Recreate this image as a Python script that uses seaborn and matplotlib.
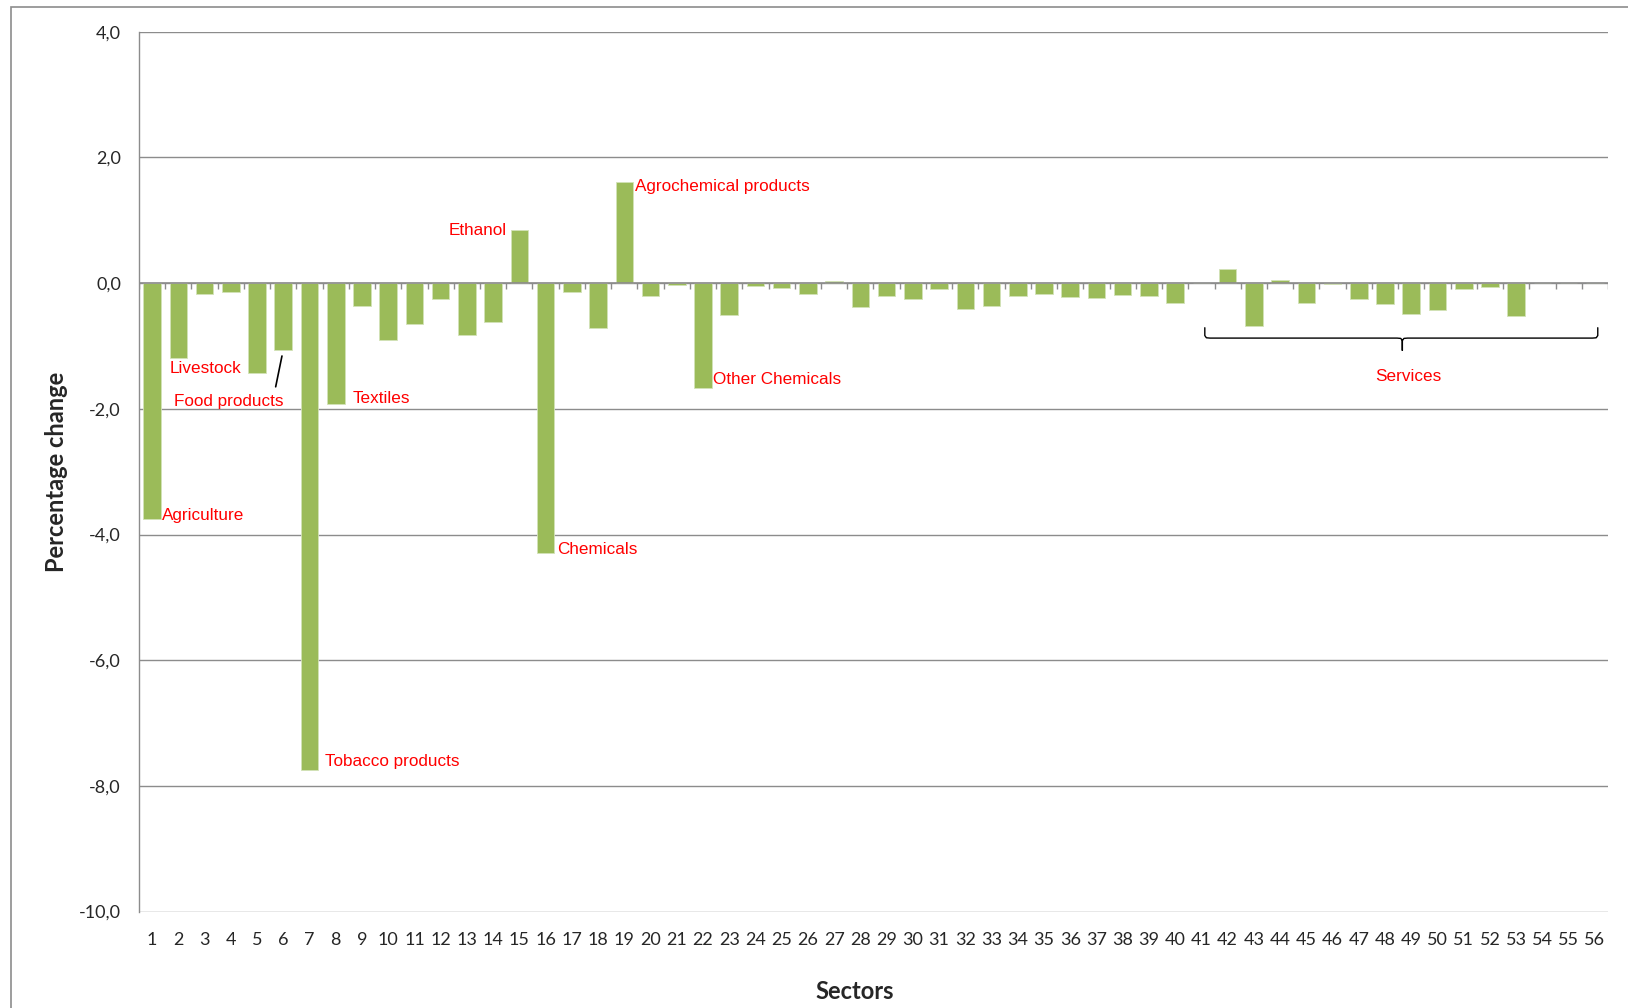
import numpy as np
import pandas as pd
import matplotlib
matplotlib.use("Agg")
import matplotlib.pyplot as plt
from matplotlib.patches import Rectangle
import seaborn as sns

# Data
sectors = [str(i) for i in range(1, 57)]
change = [-3.75, -1.19, -0.17, -0.14, -1.43, -1.07, -7.74, -1.93, -0.37, -0.91,
          -0.65, -0.25, -0.83, -0.62, 0.84, -4.29, -0.14, -0.72, 1.61, -0.21,
          -0.03, -1.67, -0.51, -0.04, -0.08, -0.17, 0.04, -0.38, -0.20, -0.26,
          -0.10, -0.42, -0.37, -0.20, -0.18, -0.22, -0.23, -0.19, -0.20, -0.32,
          0.00, 0.22, -0.68, 0.05, -0.31, -0.01, -0.25, -0.33, -0.49, -0.43,
          -0.10, -0.07, -0.53, 0.00, 0.00, 0.00]
y_ticks = [4, 2, 0, -2, -4, -6, -8, -10]

# label text, anchor (x index, y), alignment
labels = [
    ("Agriculture", 0.36, -3.69, "left"),
    ("Livestock", 0.65, -1.36, "left"),
    ("Food products", 0.83, -1.88, "left"),
    ("Textiles", 7.65, -1.83, "left"),
    ("Tobacco products", 6.58, -7.61, "left"),
    ("Ethanol", 13.51, 0.84, "right"),
    ("Chemicals", 15.45, -4.24, "left"),
    ("Agrochemical products", 18.42, 1.54, "left"),
    ("Other Chemicals", 21.39, -1.54, "left"),
    ("Services", 47.9, -1.49, "center"),
]

df = pd.DataFrame({"sector": sectors, "change": change})

sns.set_style("white")
plt.rcParams["font.family"] = ["Lato", "DejaVu Sans"]

fig = plt.figure(figsize=(16.28, 10.08), dpi=100)
ax = fig.add_axes([139 / 1628, 1 - 911.6 / 1008, (1608 - 139) / 1628, (911.6 - 31.7) / 1008])

grid_col = "#8c8c8c"
sns.barplot(data=df, x="sector", y="change", color="#9BBB59", saturation=1,
            width=0.67, edgecolor="#d3e2b8", linewidth=0.6, ax=ax, zorder=3)

ax.set_xlim(-0.5, len(sectors) - 0.5)
ax.set_ylim(-10, 4)
ax.set_yticks(y_ticks)
ax.set_yticklabels([f"{v:.1f}".replace(".", ",") for v in y_ticks], fontsize=13)
ax.yaxis.grid(True, color=grid_col, linewidth=1.0, zorder=0)
ax.set_axisbelow(True)

for s in ["top", "right", "bottom"]:
    ax.spines[s].set_visible(False)
ax.spines["left"].set_color(grid_col)
ax.spines["left"].set_linewidth(1.0)
ax.tick_params(axis="y", length=6, width=1.0, color=grid_col, pad=7)
ax.tick_params(axis="x", length=0, pad=15, labelsize=13)

# zero axis with category boundary ticks
ax.axhline(0, color=grid_col, linewidth=1.2, zorder=4)
bounds = np.arange(len(sectors) + 1) - 0.5
ax.vlines(bounds, -0.09, 0, color=grid_col, linewidth=1.0, zorder=4)

ax.set_xlabel("Sectors", fontsize=17, fontweight="bold")
ax.set_ylabel("Percentage change", fontsize=17, fontweight="bold")
ax.xaxis.set_label_coords(0.487, -0.078)
ax.yaxis.set_label_coords(-0.048, 0.5)

for text, x, y, ha in labels:
    ax.text(x, y, text, color="#ff0000", fontsize=12.3, ha=ha, va="center",
            family=["Liberation Sans", "DejaVu Sans"], zorder=5)

# leader line for food products
ax.plot([4.71, 4.95], [-1.65, -1.16], color="black", linewidth=1.2, zorder=5)

# services brace
xl, xr, xm = 40.13, 55.11, 47.66
ytop, ymid, ytip = -0.71, -0.875, -1.07
r = 0.2
brace_x = [xl, xl, xl + r * 0.3, xl + r, xm - r, xm - r * 0.3, xm, xm,
           xm, xm + r * 0.3, xm + r, xr - r, xr - r * 0.3, xr, xr]
brace_y = [ytop, ymid + 0.04, ymid + 0.005, ymid, ymid, ymid - 0.005, ymid - 0.04, ytip,
           ymid - 0.04, ymid - 0.005, ymid, ymid, ymid + 0.005, ymid + 0.04, ytop]
ax.plot(brace_x, brace_y, color="black", linewidth=1.0, zorder=5, clip_on=False)

# outer chart border
fig.patches.append(Rectangle((11 / 1628, -0.05), 1.2, 1 - 7 / 1008 + 0.05,
                             transform=fig.transFigure, fill=False,
                             edgecolor="#8c8c8c", linewidth=1.2))

fig.savefig("out.png", dpi=100)
